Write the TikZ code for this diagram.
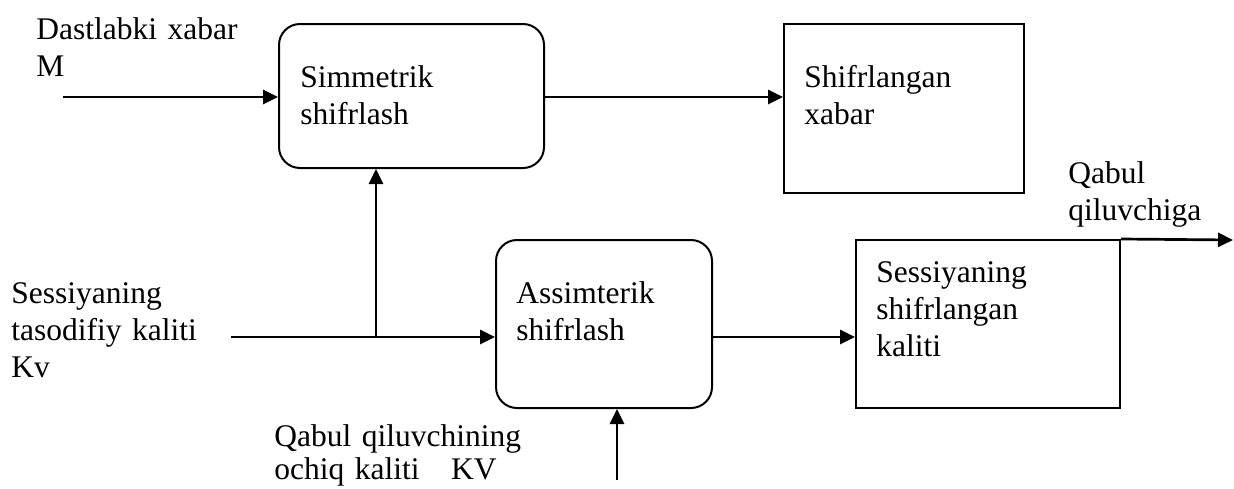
\documentclass[tikz,border=0pt]{standalone}
\usepackage{fontspec}
\setmainfont{Liberation Serif}
\usetikzlibrary{arrows.meta,positioning}
\tikzset{
  block/.style  = {draw, line width=1pt, inner sep=0pt},
  rblock/.style = {block, rounded corners=10.5pt},
  wire/.style   = {line width=1.35pt},
  flow/.style   = {-{Triangle[length=7.5pt,width=7pt]}, line width=1.35pt},
  txt/.style    = {anchor=base west, inner sep=0pt, align=left, text width=170pt,
                   font=\fontsize{15.75}{18.5}\selectfont},
}

\begin{document}
\begin{tikzpicture}[x=0.5pt,y=-0.5pt]
  \useasboundingbox (0,0) rectangle (1234,488);

  % boxes
  \node[rblock, minimum width=132.5pt, minimum height=72pt] (sym) at (411.5,96) {};
  \node[block, minimum width=120pt, minimum height=84.5pt] (enc) at (904,108.5) {};
  \node[rblock, minimum width=108pt, minimum height=84pt] (asym) at (604,324) {};
  \node[block, minimum width=132pt, minimum height=84pt] (skey) at (988,324) {};

  % texts
  \node[txt] (msg) at (36,39) {Dastlabki xabar\\M};
  \node[txt] (symtxt) at (300,87) {Simmetrik\\shifrlash};
  \node[txt] (enctxt) at (804,87) {Shifrlangan\\xabar};
  \node[txt] (recv) at (1068,183) {Qabul\\qiluvchiga};
  \node[txt] (sess) at (11,303) {Sessiyaning\\tasodifiy kaliti\\Kv};
  \node[txt] (asymtxt) at (516,303) {Assimterik\\shifrlash};
  \node[txt] (skeytxt) at (876,282) {Sessiyaning\\shifrlangan\\kaliti};
  \node[txt] (pub) at (274,446) {Qabul qiluvchining\\[-2pt]ochiq kaliti~~~KV};

  % free ends
  \coordinate (msgin) at (63,97);
  \coordinate (kvin) at (231,337);
  \coordinate (split) at (376,337);
  \coordinate (pubin) at (617,480);
  \coordinate (out) at (1233,240);

  % connectors
  \draw[flow] (msgin) -- (msgin -| sym.west);
  \draw[flow] (sym.east |- msgin) -- (enc.west |- msgin);
  \draw[wire] (kvin) -- (split);
  \draw[flow] (split) -- (kvin -| asym.west);
  \draw[flow] (split) -- (split |- sym.south);
  \draw[flow] (asym.east |- kvin) -- (skey.west |- kvin);
  \draw[flow] (skey.north east) -- (out);
  \draw[flow] (pubin) -- (pubin |- asym.south);
\end{tikzpicture}
\end{document}
